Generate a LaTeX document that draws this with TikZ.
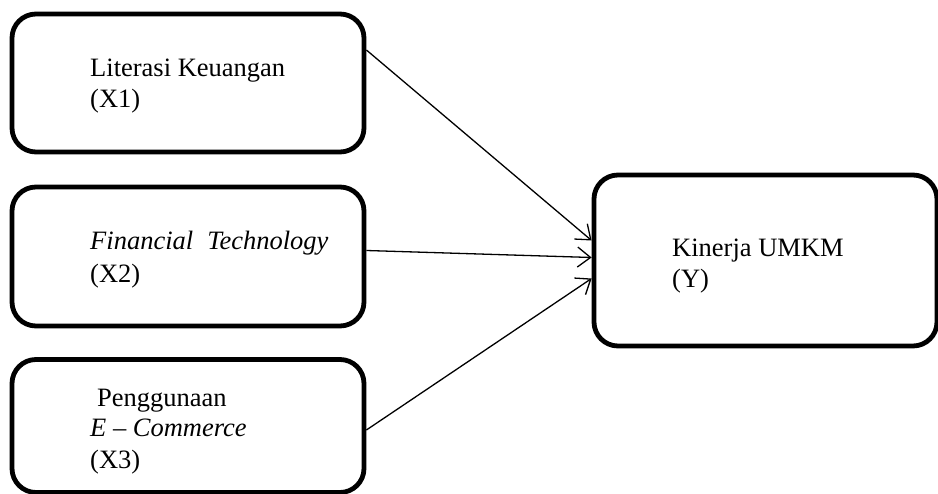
\documentclass[tikz,border=0pt]{standalone}
\usepackage{fontspec}
\setmainfont{Liberation Serif}
\usetikzlibrary{arrows.meta,calc}
\begin{document}
\begin{tikzpicture}[x=1pt,y=-1pt,
  varbox/.style={draw=black, line width=4.8pt, rounded corners=24pt, inner sep=0pt},
  lbl/.style={anchor=base west, inner sep=0pt, font=\fontsize{26.5}{31}\selectfont},
  link/.style={line width=1.3pt, -{Straight Barb[length=13pt,width=20pt,line width=1.3pt]}}]
\useasboundingbox (0,0) rectangle (938,494);

% variable boxes
\node[varbox, minimum width=352pt, minimum height=138pt] (x1) at (188,83) {};
\node[varbox, minimum width=352pt, minimum height=139pt] (x2) at (188,256.5) {};
\node[varbox, minimum width=352pt, minimum height=133pt] (x3) at (188,426) {};
\node[varbox, minimum width=343pt, minimum height=171pt] (y) at (765.5,260.5) {};

% box texts
\node[lbl] (t1a) at (90,77) {Literasi Keuangan};
\node[lbl] (t1b) at (90,108) {(X1)};
\node[lbl] (t2a) at (90,250) {\textit{Financial}\hspace*{14pt}\textit{Technology}};
\node[lbl] (t2b) at (90,283) {(X2)};
\node[lbl] (t3a) at (97,407) {Penggunaan};
\node[lbl] (t3b) at (90,437) {\textit{E – Commerce}};
\node[lbl] (t3c) at (90,468) {(X3)};
\node[lbl] (tya) at (672,257) {Kinerja UMKM};
\node[lbl] (tyb) at (672,288) {(Y)};

% influence arrows
\draw[link] ($(x1.east)+(0,-33)$) -- ($(y.west)+(0,-20)$);
\draw[link] ($(x2.east)+(0,-6)$) -- ($(y.west)+(0,-3)$);
\draw[link] ($(x3.east)+(0,4)$) -- ($(y.west)+(0,18)$);
\end{tikzpicture}
\end{document}
